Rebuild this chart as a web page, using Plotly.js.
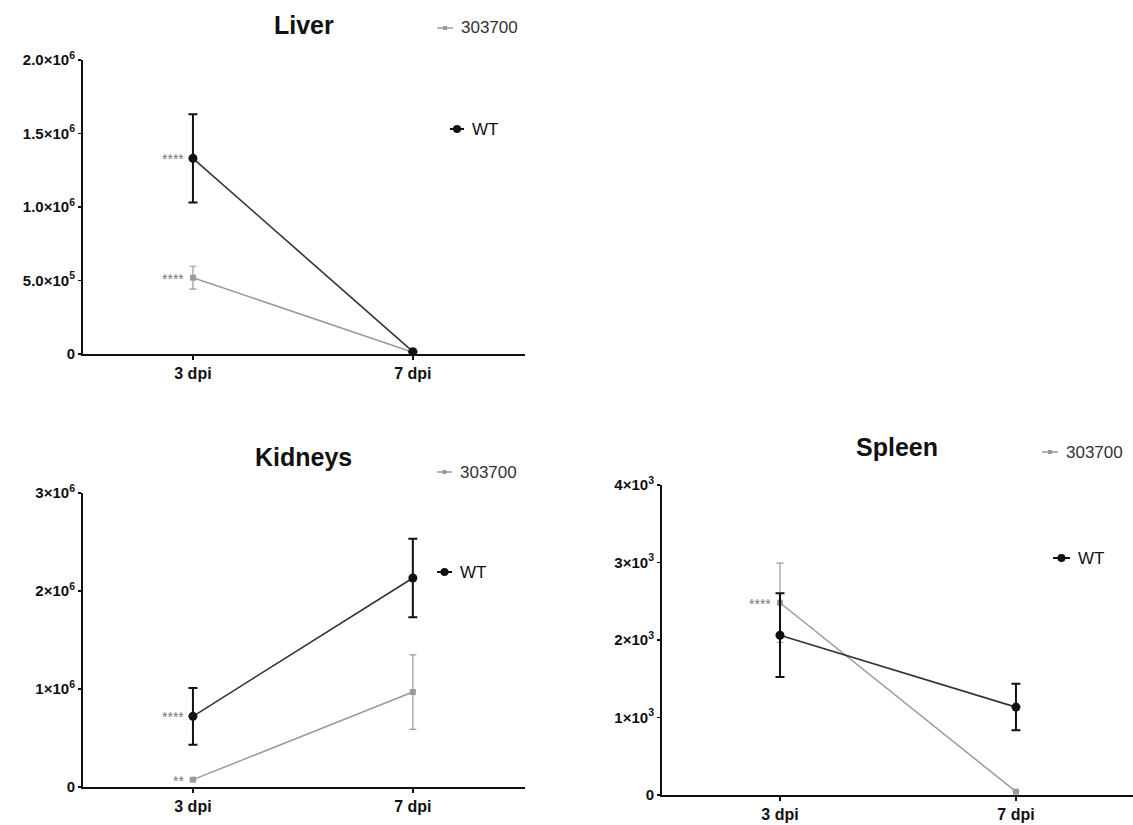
<!DOCTYPE html>
<html>
<head>
<meta charset="utf-8">
<script src="https://cdn.plot.ly/plotly-3.0.1.min.js"></script>
<style>
  html, body { margin: 0; padding: 0; background: #fff; }
  #chart { width: 1133px; height: 825px; }
</style>
</head>
<body>
<div id="chart"></div>
<script>
// Time points
const days = ['3 dpi', '7 dpi'];

// Liver burden (mean and SD)
const liverWT = [1.331e6, 0.016e6];
const liverWTsd = [0.30e6, 0];
const liverMut = [0.519e6, 0.012e6];
const liverMutSd = [0.078e6, 0];

// Kidney burden
const kidneyWT = [0.721e6, 2.133e6];
const kidneyWTsd = [0.29e6, 0.40e6];
const kidneyMut = [0.075e6, 0.969e6];
const kidneyMutSd = [0.01e6, 0.38e6];

// Spleen burden
const spleenWT = [2062, 1134];
const spleenWTsd = [540, 300];
const spleenMut = [2481, 43];
const spleenMutSd = [510, 0];

// Axis tick values and labels
const liverTicks = [0, 5e5, 1e6, 1.5e6, 2e6];
const liverTickText = ['0', '5.0×10<sup>5</sup>', '1.0×10<sup>6</sup>', '1.5×10<sup>6</sup>', '2.0×10<sup>6</sup>'];
const kidneyTicks = [0, 1e6, 2e6, 3e6];
const kidneyTickText = ['0', '1×10<sup>6</sup>', '2×10<sup>6</sup>', '3×10<sup>6</sup>'];
const spleenTicks = [0, 1000, 2000, 3000, 4000];
const spleenTickText = ['0', '1×10<sup>3</sup>', '2×10<sup>3</sup>', '3×10<sup>3</sup>', '4×10<sup>3</sup>'];

// Panel titles, series names and significance marks
const panelTitles = ['Liver', 'Kidneys', 'Spleen'];
const seriesNames = ['WT', '303700'];
const sigWT = ['****', '****', ''];
const sigMut = ['****', '**', '****'];

const W = 1133, H = 825;
const fx = p => p / W;
const fy = p => 1 - p / H;

const FONT = 'Arial, "Liberation Sans", sans-serif';
const BLACK = '#111';
const WTLINE = '#333';
const GREY = '#9a9a9a';

function mutTrace(y, sd, xa, ya) {
  return {
    x: days, y: y, xaxis: xa, yaxis: ya, name: seriesNames[1],
    type: 'scatter', mode: 'lines+markers',
    line: {color: GREY, width: 1.5},
    marker: {color: GREY, size: 6, symbol: 'square'},
    error_y: {type: 'data', array: sd, visible: true, color: GREY, thickness: 1.2, width: 3.5},
    showlegend: false, cliponaxis: false
  };
}
function wtTrace(y, sd, xa, ya) {
  return {
    x: days, y: y, xaxis: xa, yaxis: ya, name: seriesNames[0],
    type: 'scatter', mode: 'lines+markers',
    line: {color: WTLINE, width: 1.6},
    marker: {color: BLACK, size: 9, symbol: 'circle'},
    error_y: {type: 'data', array: sd, visible: true, color: BLACK, thickness: 2, width: 4.5},
    showlegend: false, cliponaxis: false
  };
}

const data = [
  mutTrace(liverMut, liverMutSd, 'x', 'y'),
  wtTrace(liverWT, liverWTsd, 'x', 'y'),
  mutTrace(kidneyMut, kidneyMutSd, 'x2', 'y2'),
  wtTrace(kidneyWT, kidneyWTsd, 'x2', 'y2'),
  mutTrace(spleenMut, spleenMutSd, 'x3', 'y3'),
  wtTrace(spleenWT, spleenWTsd, 'x3', 'y3')
];

function xAxis(domain, range, anchor) {
  return {
    domain: domain, range: range, anchor: anchor, type: 'category',
    showline: true, linecolor: BLACK, linewidth: 2,
    ticks: 'outside', ticklen: 4, tickwidth: 1.5, tickcolor: BLACK,
    showgrid: false, zeroline: false,
    tickfont: {family: FONT, size: 16, color: BLACK, weight: 'bold'}
  };
}
function yAxis(domain, range, anchor, vals, text) {
  return {
    domain: domain, range: range, anchor: anchor,
    showline: true, linecolor: BLACK, linewidth: 2,
    ticks: 'outside', ticklen: 3, tickwidth: 1.5, tickcolor: BLACK,
    tickvals: vals, ticktext: text,
    showgrid: false, zeroline: false,
    tickfont: {family: FONT, size: 15, color: BLACK, weight: 'bold'}
  };
}

const layout = {
  width: W, height: H,
  margin: {l: 0, r: 0, t: 0, b: 0},
  paper_bgcolor: '#fff', plot_bgcolor: 'rgba(0,0,0,0)',
  showlegend: false,
  xaxis: xAxis([fx(83), fx(525)], [-0.5, 1.51], 'y'),
  yaxis: yAxis([fy(354), fy(60)], [0, 2e6], 'x', liverTicks, liverTickText),
  xaxis2: xAxis([fx(83), fx(525)], [-0.5, 1.51], 'y2'),
  yaxis2: yAxis([fy(787), fy(493)], [0, 3e6], 'x2', kidneyTicks, kidneyTickText),
  xaxis3: xAxis([fx(662), 1], [-0.5, 1.496], 'y3'),
  yaxis3: yAxis([fy(795), fy(485)], [0, 4000], 'x3', spleenTicks, spleenTickText),
  annotations: [],
  shapes: []
};

// Panel titles
const titlePos = [[304, 25], [303, 457], [897, 447]];
panelTitles.forEach((t, i) => {
  layout.annotations.push({
    text: '<b>' + t + '</b>', xref: 'paper', yref: 'paper',
    x: fx(titlePos[i][0]), y: fy(titlePos[i][1]), xanchor: 'center', yanchor: 'middle',
    showarrow: false, font: {family: FONT, size: 25, color: BLACK}
  });
});

// Per-panel keys: [glyph start, glyph end, y] for 303700 and WT
const keyMut = [[437, 453, 28], [437, 452, 472], [1042, 1058, 452]];
const keyWT = [[450, 464, 129], [437, 452, 572], [1053, 1070, 558]];
for (let i = 0; i < 3; i++) {
  const m = keyMut[i], w = keyWT[i];
  layout.shapes.push({type: 'line', xref: 'paper', yref: 'paper',
    x0: fx(m[0]), x1: fx(m[1]), y0: fy(m[2]), y1: fy(m[2]), line: {color: GREY, width: 1.5}});
  const mc = (m[0] + m[1]) / 2;
  layout.shapes.push({type: 'rect', xref: 'paper', yref: 'paper',
    x0: fx(mc - 2), x1: fx(mc + 2), y0: fy(m[2] + 2), y1: fy(m[2] - 2),
    fillcolor: GREY, line: {width: 0}});
  layout.annotations.push({text: seriesNames[1], xref: 'paper', yref: 'paper',
    x: fx(m[1] + 6), y: fy(m[2]), xanchor: 'left', yanchor: 'middle', showarrow: false,
    font: {family: FONT, size: 17, color: '#333'}});

  layout.shapes.push({type: 'line', xref: 'paper', yref: 'paper',
    x0: fx(w[0]), x1: fx(w[1]), y0: fy(w[2]), y1: fy(w[2]), line: {color: BLACK, width: 2}});
  const wc = (w[0] + w[1]) / 2;
  layout.shapes.push({type: 'circle', xref: 'paper', yref: 'paper',
    x0: fx(wc - 4), x1: fx(wc + 4), y0: fy(w[2] + 4), y1: fy(w[2] - 4),
    fillcolor: BLACK, line: {width: 0}});
  layout.annotations.push({text: seriesNames[0], xref: 'paper', yref: 'paper',
    x: fx(w[1] + 6), y: fy(w[2]), xanchor: 'left', yanchor: 'middle', showarrow: false,
    font: {family: FONT, size: 17, color: BLACK}});
}

// Significance marks beside the 3 dpi points
const axesPairs = [['x', 'y'], ['x2', 'y2'], ['x3', 'y3']];
const firstWT = [liverWT[0], kidneyWT[0], spleenWT[0]];
const firstMut = [liverMut[0], kidneyMut[0], spleenMut[0]];
for (let i = 0; i < 3; i++) {
  const pair = [[sigWT[i], firstWT[i]], [sigMut[i], firstMut[i]]];
  pair.forEach(([s, v]) => {
    if (!s) return;
    layout.annotations.push({text: s, xref: axesPairs[i][0], yref: axesPairs[i][1],
      x: days[0], y: v, xanchor: 'right', yanchor: 'middle', xshift: -7, yshift: -1,
      showarrow: false, font: {family: FONT, size: 14, color: '#777'}});
  });
}

Plotly.newPlot('chart', data, layout, {staticPlot: true, displayModeBar: false});
</script>
</body>
</html>
